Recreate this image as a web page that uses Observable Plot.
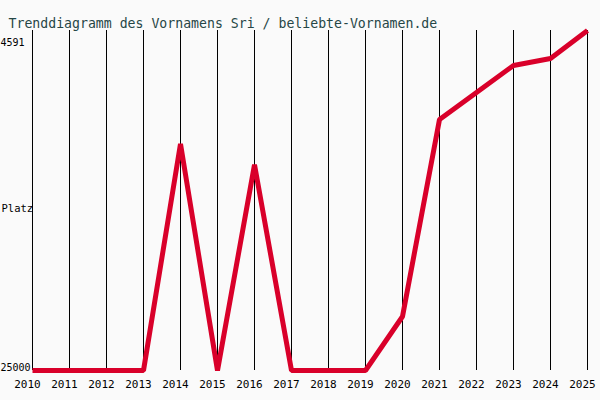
<!DOCTYPE html>
<html>
<head>
<meta charset="utf-8">
<script src="https://cdn.jsdelivr.net/npm/d3@7"></script>
<script src="https://cdn.jsdelivr.net/npm/@observablehq/plot@0.6"></script>
<style>
  html, body { margin: 0; padding: 0; background: #fafafa; }
</style>
</head>
<body>
<div id="chart"></div>
<script>
const title = "Trenddiagramm des Vornamens Sri / beliebte-Vornamen.de";
const years = [2010, 2011, 2012, 2013, 2014, 2015, 2016, 2017, 2018, 2019, 2020, 2021, 2022, 2023, 2024, 2025];
const ranks = [25000, 25000, 25000, 25000, 11400, 25000, 12650, 25000, 25000, 25000, 21760, 9930, 8310, 6690, 6270, 4591];
const yTopLabel = 4591;
const yBottomLabel = 25000;
const yAxisLabel = "Platz";

const data = years.map((year, i) => ({year, rank: ranks[i]}));

const chart = Plot.plot({
  width: 600,
  height: 400,
  marginTop: 30,
  marginBottom: 30,
  marginLeft: 32,
  marginRight: 13,
  style: {background: "#fafafa", fontFamily: "DejaVu Sans Mono", fontSize: "11px", color: "black"},
  x: {domain: [2010, 2025], axis: null},
  y: {domain: [25000, 4591], axis: null},
  marks: [
    Plot.ruleX(years, {x: d => d, stroke: "black", strokeWidth: 1, strokeOpacity: 1}),
    Plot.line(data, {x: "year", y: "rank", stroke: "#d9002a", strokeWidth: 5, strokeLinejoin: "miter", strokeLinecap: "butt"}),
    Plot.text(years, {x: d => d, frameAnchor: "bottom", dx: -5, dy: 17, text: d => String(d), fill: "black"}),
    Plot.text([yTopLabel], {y: d => d, frameAnchor: "left", dx: -32, dy: 12, textAnchor: "start", text: d => String(d), fill: "black", fontSize: 10}),
    Plot.text([yBottomLabel], {y: d => d, frameAnchor: "left", dx: -32, dy: -3, textAnchor: "start", text: d => String(d), fill: "black", fontSize: 10}),
    Plot.text([yAxisLabel], {frameAnchor: "left", dx: -31, dy: 8, textAnchor: "start", text: d => d, fill: "black", fontSize: 10.5}),
    Plot.text([title], {frameAnchor: "top-left", dx: -24, dy: -12, textAnchor: "start", text: d => d, fill: "#264646", fontSize: 13.2})
  ]
});
document.getElementById("chart").append(chart);
</script>
</body>
</html>
